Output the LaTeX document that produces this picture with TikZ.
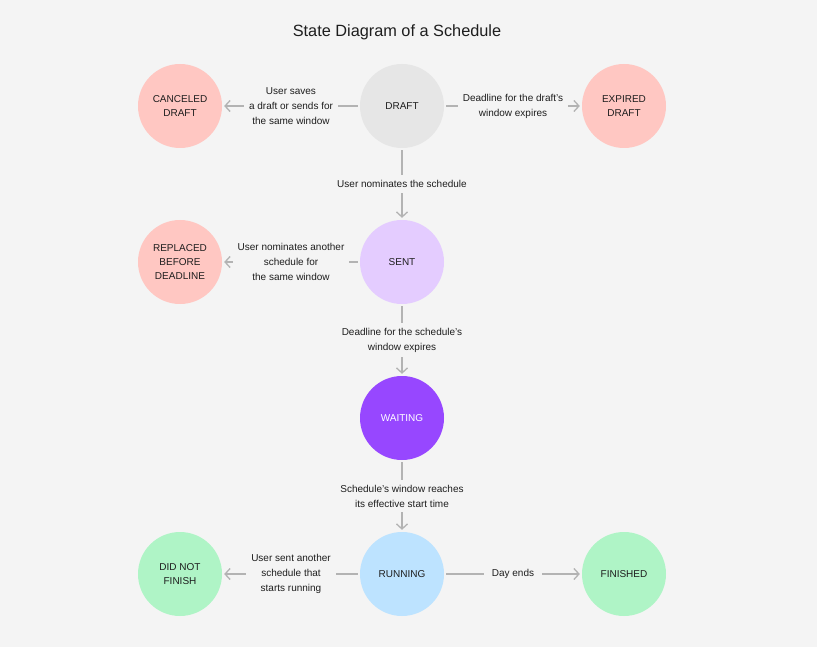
\documentclass[tikz,border=0pt]{standalone}
\usepackage{fontspec}
\setmainfont{Liberation Sans}
\usetikzlibrary{arrows.meta, positioning}
\definecolor{bgcol}{HTML}{F4F4F4}
\definecolor{edgecol}{HTML}{B3B3B3}
\definecolor{textcol}{HTML}{1E1E1E}
\definecolor{draftcol}{HTML}{E6E6E6}
\definecolor{badcol}{HTML}{FFC7C2}
\definecolor{sentcol}{HTML}{E4CCFF}
\definecolor{waitcol}{HTML}{9747FF}
\definecolor{runcol}{HTML}{BDE3FF}
\definecolor{okcol}{HTML}{AFF4C6}

\begin{document}
\begin{tikzpicture}[x=1pt, y=-1pt, >={Straight Barb[length=5pt, width=11pt]},
  state/.style={circle, minimum size=84pt, inner sep=0pt, align=center,
    text=textcol, font=\fontsize{10}{14}\selectfont},
  trans/.style={->, edgecol, line width=1.3pt, shorten <=2pt, shorten >=2pt},
  lbl/.style={fill=bgcol, inner sep=5pt, align=center, text=textcol,
    font=\fontsize{10}{15}\selectfont}]
% page
\fill[bgcol] (0,0) rectangle (817,647);
\node[text=textcol, font=\fontsize{16.3}{20}\selectfont] (title) at (397,32) {State Diagram of a Schedule};
% states
\node[state, fill=draftcol] (draft) at (402,106) {DRAFT};
\node[state, fill=badcol] (canceled) at (180,106) {CANCELED\\DRAFT};
\node[state, fill=badcol] (expired) at (624,106) {EXPIRED\\DRAFT};
\node[state, fill=sentcol] (sent) at (402,262) {SENT};
\node[state, fill=badcol] (replaced) at (180,262) {REPLACED\\BEFORE\\DEADLINE};
\node[state, fill=waitcol, text=white] (waiting) at (402,418) {WAITING};
\node[state, fill=runcol] (running) at (402,574) {RUNNING};
\node[state, fill=okcol] (notfinish) at (180,574) {DID NOT\\FINISH};
\node[state, fill=okcol] (finished) at (624,574) {FINISHED};
% transitions
\draw[trans] (draft) -- node[lbl] {User saves\\a draft or sends for\\the same window} (canceled);
\draw[trans] (draft) -- node[lbl] {Deadline for the draft's\\window expires} (expired);
\draw[trans] (draft) -- node[lbl] {User nominates the schedule} (sent);
\draw[trans] (sent) -- node[lbl] {User nominates another\\schedule for\\the same window} (replaced);
\draw[trans] (sent) -- node[lbl] {Deadline for the schedule's\\window expires} (waiting);
\draw[trans] (waiting) -- node[lbl] {Schedule's window reaches\\its effective start time} (running);
\draw[trans] (running) -- node[lbl] {User sent another\\schedule that\\starts running} (notfinish);
\draw[trans] (running) -- node[lbl, inner xsep=8pt] {Day ends} (finished);
\end{tikzpicture}
\end{document}
